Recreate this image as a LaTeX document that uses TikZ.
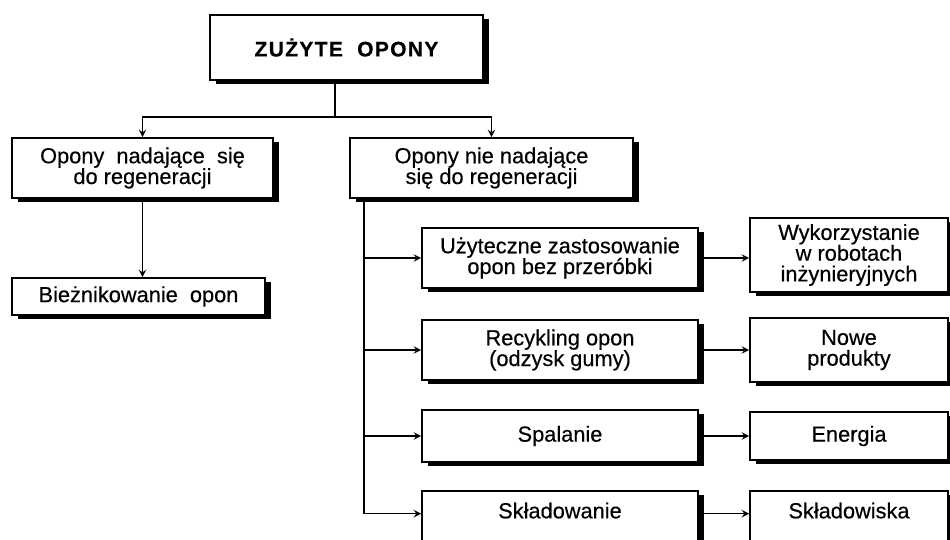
\documentclass[tikz,border=0pt]{standalone}
\usepackage{fontspec}
\setmainfont{Liberation Sans}[FakeBold=0.4]
\usetikzlibrary{shadows}

\tikzset{
  box/.style={draw, line width=0.9pt, fill=white, align=center, inner sep=2pt,
    font=\fontsize{12.4}{11.8}\selectfont,
    drop shadow={shadow xshift=0.11cm, shadow yshift=-0.08cm, fill=black, opacity=1}},
  cutbox/.style={box, anchor=north, text height=0.48cm, text depth=1cm},
  link/.style={->, >=stealth, line width=0.9pt},
}

\begin{document}
\begin{tikzpicture}
\useasboundingbox (0,0) rectangle (19,-10.8);
% top level
\node[box, minimum width=5.46cm, minimum height=1.3cm] (top) at (6.93,-0.95)
  {\bfseries\fontsize{12}{13}\selectfont\addfontfeature{LetterSpace=6}ZUŻYTE\ \ OPONY};
\node[box, minimum width=5.22cm, minimum height=1.2cm] (nad) at (2.85,-3.36)
  {Opony\ \ nadające\ \ się\\do regeneracji};
\node[box, minimum width=5.66cm, minimum height=1.2cm] (nie) at (9.83,-3.36)
  {Opony nie nadające\\się do regeneracji};
\node[box, minimum width=5.06cm, minimum height=0.74cm] (biez) at (2.77,-5.93)
  {Bieżnikowanie\ \ opon};
% ways of use
\node[box, minimum width=5.52cm, minimum height=1.2cm] (uzy) at (11.2,-5.16)
  {Użyteczne zastosowanie\\opon bez przeróbki};
\node[box, minimum width=5.52cm, minimum height=1.2cm] (rec) at (11.2,-7.0)
  {Recykling opon\\(odzysk gumy)};
\node[box, minimum width=5.52cm, minimum height=1.04cm] (spa) at (11.2,-8.72)
  {Spalanie};
\node[cutbox, minimum width=5.52cm] (skl) at (11.2,-9.8) {Składowanie};
% results
\node[box, minimum width=3.96cm, minimum height=1.48cm] (wyk) at (16.98,-5.1)
  {Wykorzystanie\\w robotach\\inżynieryjnych};
\node[box, minimum width=3.96cm, minimum height=1.28cm] (nowe) at (16.98,-7.0)
  {Nowe\\produkty};
\node[box, minimum width=3.96cm, minimum height=0.96cm] (ene) at (16.98,-8.72)
  {Energia};
\node[cutbox, minimum width=3.96cm] (skw) at (16.98,-9.8) {Składowiska};

% connectors
\coordinate (split) at (6.7,-2.34);
\draw[line width=0.9pt] (top.south -| split) -- (split);
\draw[link] (split) -| (nad.north);
\draw[link] (split) -| (nie.north);
\draw[link] (nad.south) -- (nad.south |- biez.north);
\coordinate (trunk) at ([xshift=0.3cm]nie.south west);
\draw[line width=0.9pt] (trunk) -- (trunk |- skl.mid west);
\foreach \n in {uzy,rec,spa}
  \draw[link] (trunk |- \n.west) -- (\n.west);
\draw[link] (trunk |- skl.mid west) -- (skl.mid west);
\draw[link] (uzy.east) -- (uzy.east -| wyk.west);
\draw[link] (rec.east) -- (rec.east -| nowe.west);
\draw[link] (spa.east) -- (spa.east -| ene.west);
\draw[link] (skl.mid east) -- (skl.mid east -| skw.west);
\end{tikzpicture}
\end{document}
